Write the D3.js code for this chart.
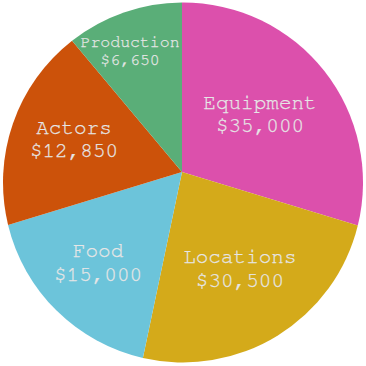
<!DOCTYPE html>
<html>
<head>
<meta charset="utf-8">
<script src="https://cdn.jsdelivr.net/npm/d3@7"></script>
<style>
  html, body { margin: 0; padding: 0; background: #fff; }
  svg { display: block; }
  .slice-label { font-family: "FreeMono", "Nimbus Mono PS", "Nimbus Mono L", "Courier", "Liberation Mono", monospace; fill: #e6e6e6; stroke: #e6e6e6; stroke-width: 0.25px; }
</style>
</head>
<body>
<svg class="budget-pie"></svg>
<script>
// categories, clockwise from 12 o'clock
const categories = ['Equipment', 'Locations', 'Food', 'Actors', 'Production']
// dollar values printed on the slices
const amounts = [35000, 30500, 15000, 12850, 6650]
// slice sizes as drawn (% of a turn around the apex)
const sliceShares = [29.7, 23.6, 17.0, 18.6, 11.1]
const colors = ['#dc50ac', '#d4aa1a', '#6cc4da', '#cc520a', '#5aae78']

const width = 366, height = 366
const radius = 180
const cx = 183, cy = 182.5       // centre of the outer circle
const ax = 182, ay = 172         // point where the slices meet (a bit above the centre)

const svg = d3.select('svg.budget-pie')
  .attr('width', width)
  .attr('height', height)

const data = categories.map((c, i) => ({cat: c, amount: amounts[i], share: sliceShares[i], color: colors[i]}))

const pie = d3.pie().sort(null).value(d => d.share)

// where a ray from the apex at angle a (clockwise from 12 o'clock) hits the circle
function hit(a){
  const dx = Math.sin(a), dy = -Math.cos(a)
  const ox = ax - cx, oy = ay - cy
  const b = ox * dx + oy * dy
  const t = -b + Math.sqrt(b * b - (ox * ox + oy * oy - radius * radius))
  return [ax + t * dx, ay + t * dy]
}
const circAngle = p => Math.atan2(p[0] - cx, -(p[1] - cy))

function slicePath(d){
  const p0 = hit(d.startAngle), p1 = hit(d.endAngle)
  let a0 = circAngle(p0), a1 = circAngle(p1)
  while (a1 <= a0) a1 += 2 * Math.PI
  const path = d3.path()
  path.moveTo(ax, ay)
  path.lineTo(p0[0], p0[1])
  path.arc(cx, cy, radius, a0 - Math.PI / 2, a1 - Math.PI / 2)
  path.closePath()
  return path.toString()
}

function slicePolygon(d){
  const pts = [[ax, ay]]
  const n = 60
  for (let i = 0; i <= n; i++) pts.push(hit(d.startAngle + (d.endAngle - d.startAngle) * i / n))
  return pts
}

function segDist(p, a, b){
  const vx = b[0] - a[0], vy = b[1] - a[1]
  let t = ((p[0] - a[0]) * vx + (p[1] - a[1]) * vy) / (vx * vx + vy * vy)
  t = Math.max(0, Math.min(1, t))
  return Math.hypot(p[0] - a[0] - t * vx, p[1] - a[1] - t * vy)
}

// signed distance to the slice edge (negative outside)
function edgeDist(poly, p){
  let dist = Infinity
  for (let i = 0; i < poly.length; i++) dist = Math.min(dist, segDist(p, poly[i], poly[(i + 1) % poly.length]))
  return d3.polygonContains(poly, p) ? dist : -dist
}

// smallest room left round the text lines if anchored at (x,y)
function room(poly, samples, x, y, stopAt){
  let m = Infinity
  for (const s of samples){
    m = Math.min(m, edgeDist(poly, [x + s[0], y + s[1]]))
    if (m <= stopAt) break
  }
  return m
}

// centre of the biggest circle inside the slice; if the text does not fit
// there, the spot where the text lines keep the most room
function labelSpot(d, boxes){
  const poly = slicePolygon(d)
  const xs = poly.map(p => p[0]), ys = poly.map(p => p[1])
  const samples = []
  boxes.forEach(b => {
    const steps = Math.ceil(b.w / 8)
    for (let i = 0; i <= steps; i++){
      const x = -b.w / 2 + b.w * i / steps
      samples.push([x, b.top], [x, b.bottom])
    }
  })
  let pole = null, poleD = -1
  for (let x = d3.min(xs); x <= d3.max(xs); x += 1){
    for (let y = d3.min(ys); y <= d3.max(ys); y += 1){
      if (!d3.polygonContains(poly, [x, y])) continue
      const m = edgeDist(poly, [x, y])
      if (m > poleD){ poleD = m; pole = [x, y] }
    }
  }
  if (room(poly, samples, pole[0], pole[1], -Infinity) >= 1) return pole

  let best = pole, bestD = -Infinity
  for (let x = d3.min(xs); x <= d3.max(xs); x += 1){
    for (let y = d3.min(ys); y <= d3.max(ys); y += 1){
      if (!d3.polygonContains(poly, [x, y])) continue
      const m = room(poly, samples, x, y, bestD)
      if (m > bestD){ bestD = m; best = [x, y] }
    }
  }
  return best
}

const slices = svg.selectAll('g.slice')
  .data(pie(data))
  .join('g')
  .attr('class', 'slice')

slices.append('path')
  .attr('d', slicePath)
  .attr('fill', d => d.data.color)

const fmt = d3.format('$,')

// the small slice gets smaller text
const labels = slices.append('text')
  .attr('class', 'slice-label')
  .attr('text-anchor', 'middle')
  .style('font-size', d => d.data.share < 12 ? '16.5px' : '21px')
  .each(function(d){
    const t = d3.select(this)
    t.append('tspan').attr('x', 0).attr('dy', '-0.28em').text(d.data.cat)
    t.append('tspan').attr('x', 0).attr('dy', '1.12em').text(fmt(d.data.amount))
  })

labels.each(function(d){
  const fs = parseFloat(this.style.fontSize)
  const spans = this.querySelectorAll('tspan')
  const boxes = [
    {w: spans[0].getComputedTextLength(), top: -0.88 * fs, bottom: -0.28 * fs},
    {w: spans[1].getComputedTextLength(), top: 0.24 * fs, bottom: 0.84 * fs}
  ]
  d3.select(this).attr('transform', `translate(${labelSpot(d, boxes)})`)
})
</script>
</body>
</html>
